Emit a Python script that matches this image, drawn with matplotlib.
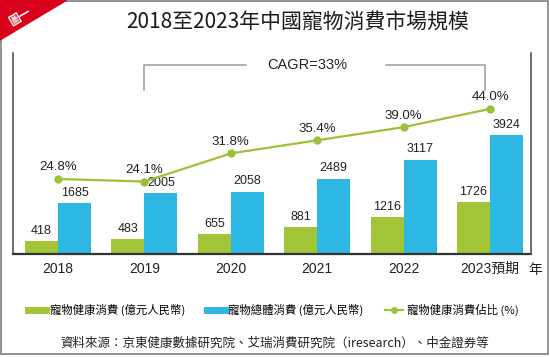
import numpy as np
import matplotlib.pyplot as plt
from matplotlib.lines import Line2D
from matplotlib.patches import Polygon, Rectangle

# 2018-2023 pet consumption market in China
years = ["2018", "2019", "2020", "2021", "2022", "2023預期"]
health = [418, 483, 655, 881, 1216, 1726]      # 寵物健康消費 (億元人民幣)
total = [1685, 2005, 2058, 2489, 3117, 3924]   # 寵物總體消費 (億元人民幣)
share = [24.8, 24.1, 31.8, 35.4, 39.0, 44.0]   # 健康消費佔比 (%)

GREEN = "#a2c437"
BLUE = "#2cb8e2"
NUM_FONT = ["Liberation Sans Narrow", "Liberation Sans", "Noto Sans CJK TC"]
CJK_FONT = ["Noto Sans CJK TC", "DejaVu Sans"]

fig = plt.figure(figsize=(5.5, 3.57), dpi=100)
ax = fig.add_axes([0.0236, 0.2885, 0.942, 0.563])
ax2 = ax.twinx()

x = np.arange(len(years))
w = 0.382
b1 = ax.bar(x - w/2, health, w, color=GREEN, zorder=2)
b2 = ax.bar(x + w/2, total, w, color=BLUE, zorder=2)

for bars, vals in ((b1, health), (b2, total)):
    for r, v in zip(bars, vals):
        ax.annotate(f"{v}", (r.get_x() + r.get_width()/2, v), xytext=(0, 3),
                    textcoords="offset points", ha="center", va="bottom",
                    fontsize=9, family=NUM_FONT, color="#222222")

ax2.plot(x, share, color="#9cc13b", lw=1.6, marker="o", ms=5, zorder=3)
for xi, p in zip(x, share):
    ax2.annotate(f"{p:.1f}%", (xi, p), xytext=(0, 4), textcoords="offset points",
                 ha="center", va="bottom", fontsize=9.5, family=NUM_FONT, color="#222222")

ax.set_xlim(-0.521, 5.475)
ax.set_ylim(0, 6630)
ax2.set_ylim(4.25, 59.3)

ax.set_xticks(x)
ax.set_xticklabels(years, family=NUM_FONT + CJK_FONT, fontsize=10, color="#222222")
ax.tick_params(axis="x", length=0, pad=6)
ax.set_yticks([])
ax2.set_yticks([])

for a in (ax, ax2):
    a.spines["top"].set_visible(False)
ax2.spines["left"].set_visible(False)
ax2.spines["bottom"].set_visible(False)
ax.spines["right"].set_visible(False)
ax.spines["left"].set_color("#555555")
ax.spines["left"].set_linewidth(1.2)
ax2.spines["right"].set_color("#555555")
ax2.spines["right"].set_linewidth(1.2)
ax.spines["bottom"].set_color("#333333")
ax.spines["bottom"].set_linewidth(1.6)

# CAGR bracket
tr = ax.get_xaxis_transform()
brk = dict(color="#9a9a9a", lw=1.1, transform=tr, clip_on=False)
ax.plot([1.0, 1.0, 2.18], [0.816, 0.94, 0.94], **brk)
ax.plot([3.80, 4.94, 4.94], [0.94, 0.94, 0.816], **brk)
ax.text(2.89, 0.94, "CAGR=33%", transform=tr, ha="center", va="center",
        fontsize=10.5, family=["Liberation Sans", "DejaVu Sans"], color="#222222")

fig.text(0.9727, 0.2437, "年", ha="center", va="center", fontsize=10,
         family=CJK_FONT, color="#222222")

# title and corner badge
fig.text(0.542, 0.9356, "2018至2023年中國寵物消費市場規模", ha="center", va="center",
         fontsize=15, family=CJK_FONT, color="#1a1a1a")
fig.patches.append(Polygon([(0, 1), (0.1218, 1), (0, 0.888)], closed=True,
                           transform=fig.transFigure, color="#d9001b", zorder=5))
fig.text(0.0364, 0.952, "圖一", ha="center", va="center", rotation=30,
         fontsize=8.5, family=CJK_FONT, color="white", weight="bold", zorder=6)
fig.patches.append(Rectangle((0.002, 0.0084), 0.9944, 0.9886, fill=False,
                             transform=fig.transFigure, edgecolor="#8a8a8a", lw=1.3, zorder=4))

# legend
handles = [Line2D([], [], color=GREEN, lw=5),
           Line2D([], [], color=BLUE, lw=5),
           Line2D([], [], color="#9cc13b", lw=1.6, marker="o", ms=4)]
labels = ["寵物健康消費 (億元人民幣)", "寵物總體消費 (億元人民幣)", "寵物健康消費佔比 (%)"]
fig.legend(handles, labels, ncol=3, loc="center", bbox_to_anchor=(0.497, 0.1317),
           frameon=False, handlelength=1.6, handletextpad=0.3, columnspacing=1.9,
           prop={"family": CJK_FONT, "size": 8.2})

fig.text(0.5, 0.039, "資料來源：京東健康數據研究院、艾瑞消費研究院（iresearch）、中金證券等",
         ha="center", va="center", fontsize=9, family=CJK_FONT, color="#222222")

fig.savefig("out.png", dpi=100)
